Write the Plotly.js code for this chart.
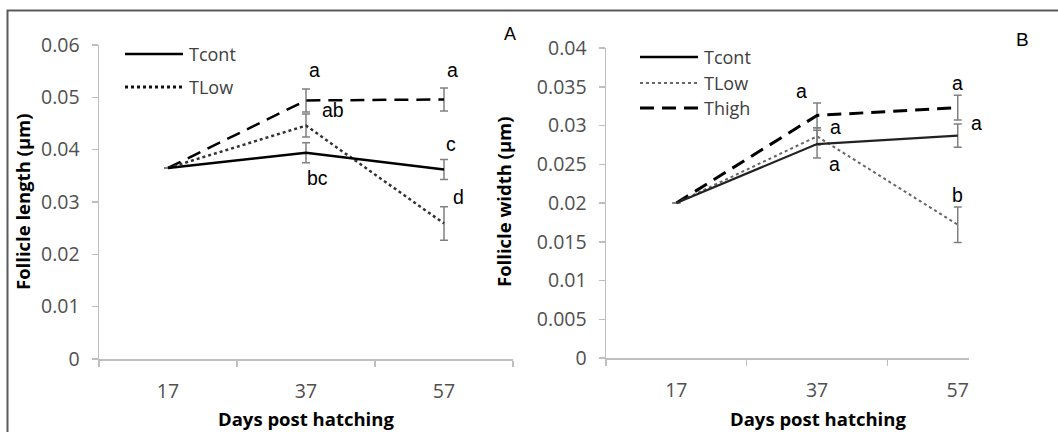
<!DOCTYPE html>
<html>
<head>
<meta charset="utf-8">
<script src="https://cdn.plot.ly/plotly-3.0.1.min.js"></script>
<style>html,body{margin:0;padding:0;background:#fff;}#chart{width:1058px;height:432px;}</style>
</head>
<body>
<div id="chart"></div>
<script>
// ---- data ----
var days = ['17', '37', '57'];

// Panel A: follicle length (µm)
var lenTcont = [0.0365, 0.0394, 0.0362];
var lenTcontErr = [null, 0.0019, 0.0019];
var lenTLow = [0.0365, 0.0446, 0.0259];
var lenTLowErr = [null, 0.0022, 0.0032];
var lenThigh = [0.0365, 0.0494, 0.0496];
var lenThighErr = [null, 0.0022, 0.0022];

// Panel B: follicle width (µm)
var widTcont = [0.0200, 0.0276, 0.0287];
var widTcontErr = [null, 0.0018, 0.0015];
var widTLow = [0.0200, 0.0286, 0.0172];
var widTLowErr = [null, 0.0011, 0.0023];
var widThigh = [0.0200, 0.0313, 0.0323];
var widThighErr = [null, 0.0016, 0.0016];

// significance letters
var lettersA = ['a', 'ab', 'bc', 'a', 'c', 'd'];
var lettersAX = ['37', '37', '37', '57', '57', '57'];
var lettersAY = [0.0553, 0.0475, 0.0345, 0.0553, 0.0410, 0.0310];
var lettersAShift = [8, 27, 11, 8, 7, 14];

var lettersB = ['a', 'a', 'a', 'a', 'a', 'b'];
var lettersBX = ['37', '37', '37', '57', '57', '57'];
var lettersBY = [0.0345, 0.0298, 0.0250, 0.0355, 0.0303, 0.0210];
var lettersBShift = [-16, 18, 17, 0, 19, 0];

var legendA = ['Tcont', 'TLow'];
var legendB = ['Tcont', 'TLow', 'Thigh'];

// ---- helpers ----
var W = 1058, H = 432;
function px(x) { return x / W; }
function py(y) { return 1 - y / H; }

var errColor = '#808080';
function errObj(arr) {
  return {type: 'data', array: arr, visible: true, color: errColor, thickness: 1.5, width: 4};
}

var traces = [
  {x: days, y: lenThigh, error_y: errObj(lenThighErr), type: 'scatter', mode: 'lines', xaxis: 'x', yaxis: 'y',
   line: {color: '#000', width: 2.5, dash: '14px,8px'}, showlegend: false, name: 'Thigh'},
  {x: days, y: lenTLow, error_y: errObj(lenTLowErr), type: 'scatter', mode: 'lines', xaxis: 'x', yaxis: 'y',
   line: {color: '#333', width: 2.5, dash: 'dot'}, showlegend: false, name: 'TLow'},
  {x: days, y: lenTcont, error_y: errObj(lenTcontErr), type: 'scatter', mode: 'lines', xaxis: 'x', yaxis: 'y',
   line: {color: '#000', width: 2.5}, showlegend: false, name: 'Tcont'},

  {x: days, y: widThigh, error_y: errObj(widThighErr), type: 'scatter', mode: 'lines', xaxis: 'x2', yaxis: 'y2',
   line: {color: '#000', width: 3, dash: '14px,8px'}, showlegend: false, name: 'Thigh'},
  {x: days, y: widTLow, error_y: errObj(widTLowErr), type: 'scatter', mode: 'lines', xaxis: 'x2', yaxis: 'y2',
   line: {color: '#666', width: 2, dash: 'dot'}, showlegend: false, name: 'TLow'},
  {x: days, y: widTcont, error_y: errObj(widTcontErr), type: 'scatter', mode: 'lines', xaxis: 'x2', yaxis: 'y2',
   line: {color: '#222', width: 2.2}, showlegend: false, name: 'Tcont'}
];

var tickFont = {family: 'Open Sans, sans-serif', size: 19.5, color: '#505050'};
var axisCommon = {
  showgrid: false, zeroline: false, showline: true, linecolor: '#bfbfbf', linewidth: 1.5,
  ticks: 'outside', tickcolor: '#bfbfbf', tickwidth: 1.5, ticklen: 6, tickfont: tickFont, fixedrange: true
};

function xax(domain, range) {
  return Object.assign({}, axisCommon, {
    type: 'category', domain: domain, range: range, tickson: 'boundaries', ticklabelstandoff: 14
  });
}

var layout = {
  width: W, height: H,
  margin: {l: 0, r: 0, t: 0, b: 0},
  paper_bgcolor: '#fff', plot_bgcolor: 'rgba(0,0,0,0)',
  showlegend: false,
  xaxis: Object.assign(xax([px(99), px(513)], [-0.5, 2.5]), {anchor: 'y'}),
  yaxis: Object.assign({}, axisCommon, {domain: [py(359), py(45)], range: [0, 0.06], dtick: 0.01, tick0: 0,
    anchor: 'x', ticklabelstandoff: 8}),
  xaxis2: Object.assign(xax([px(606), px(969)], [-0.5, 2.08]), {anchor: 'y2'}),
  yaxis2: Object.assign({}, axisCommon, {domain: [py(358), py(48)], range: [0, 0.04], dtick: 0.005, tick0: 0,
    anchor: 'x2', ticklabelstandoff: 8}),
  shapes: [],
  annotations: []
};

// outer frame (left + top border)
layout.shapes.push({type: 'path', xref: 'paper', yref: 'paper',
  path: 'M ' + px(7.5) + ' 0 L ' + px(7.5) + ' ' + py(10.5) + ' L 1 ' + py(10.5),
  line: {color: '#5a5a5a', width: 2}});

var legFont = {family: 'Open Sans, sans-serif', size: 18, color: '#404040'};

// legend A
var legStyleA = [
  {color: '#000', width: 2.5, dash: 'solid'},
  {color: '#111', width: 3, dash: 'dot'}
];
var legYA = [54, 87];
legendA.forEach(function (name, i) {
  layout.shapes.push({type: 'line', xref: 'paper', yref: 'paper', x0: px(125), x1: px(183), y0: py(legYA[i]), y1: py(legYA[i]), line: legStyleA[i]});
  layout.annotations.push({xref: 'paper', yref: 'paper', x: px(187), y: py(legYA[i]), xanchor: 'left', yanchor: 'middle',
    text: name, showarrow: false, font: legFont});
});

// legend B
var legStyleB = [
  {color: '#000', width: 2.5, dash: 'solid'},
  {color: '#666', width: 2, dash: 'dot'},
  {color: '#000', width: 3, dash: '14px,8px'}
];
var legYB = [57, 83, 108];
legendB.forEach(function (name, i) {
  layout.shapes.push({type: 'line', xref: 'paper', yref: 'paper', x0: px(640), x1: px(698), y0: py(legYB[i]), y1: py(legYB[i]), line: legStyleB[i]});
  layout.annotations.push({xref: 'paper', yref: 'paper', x: px(702), y: py(legYB[i]), xanchor: 'left', yanchor: 'middle',
    text: name, showarrow: false, font: legFont});
});

// letters (positioned on the category index of their day)
var letterFont = {family: 'Liberation Sans, Arial, sans-serif', size: 19.5, color: '#000'};
lettersA.forEach(function (t, i) {
  layout.annotations.push({xref: 'x', yref: 'y', x: days.indexOf(lettersAX[i]), y: lettersAY[i], xshift: lettersAShift[i],
    text: t, showarrow: false, font: letterFont, xanchor: 'center', yanchor: 'middle'});
});
lettersB.forEach(function (t, i) {
  layout.annotations.push({xref: 'x2', yref: 'y2', x: days.indexOf(lettersBX[i]), y: lettersBY[i], xshift: lettersBShift[i],
    text: t, showarrow: false, font: letterFont, xanchor: 'center', yanchor: 'middle'});
});

// panel labels
layout.annotations.push({xref: 'paper', yref: 'paper', x: px(510), y: py(34), text: 'A', showarrow: false,
  xanchor: 'center', yanchor: 'middle', font: {family: 'Liberation Sans, Arial, sans-serif', size: 18, color: '#000'}});
layout.annotations.push({xref: 'paper', yref: 'paper', x: px(1022), y: py(40), text: 'B', showarrow: false,
  xanchor: 'center', yanchor: 'middle', font: {family: 'Liberation Sans, Arial, sans-serif', size: 19, color: '#000'}});

// axis titles
var titleFont = {family: 'Open Sans, sans-serif', size: 18.5, color: '#000', weight: 'bold'};
layout.annotations.push({xref: 'paper', yref: 'paper', x: px(22), y: py(202), text: '<b>Follicle length (µm)</b>',
  textangle: -90, showarrow: false, font: titleFont, xanchor: 'center', yanchor: 'middle'});
layout.annotations.push({xref: 'paper', yref: 'paper', x: px(503), y: py(202), text: '<b>Follicle width (µm)</b>',
  textangle: -90, showarrow: false, font: titleFont, xanchor: 'center', yanchor: 'middle'});
layout.annotations.push({xref: 'paper', yref: 'paper', x: px(306), y: 0, text: '<b>Days post hatching</b>',
  showarrow: false, font: titleFont, xanchor: 'center', yanchor: 'bottom', borderpad: 0});
layout.annotations.push({xref: 'paper', yref: 'paper', x: px(818), y: 0, text: '<b>Days post hatching</b>',
  showarrow: false, font: titleFont, xanchor: 'center', yanchor: 'bottom', borderpad: 0});

Plotly.newPlot('chart', traces, layout, {displayModeBar: false, staticPlot: true});
</script>
</body>
</html>
